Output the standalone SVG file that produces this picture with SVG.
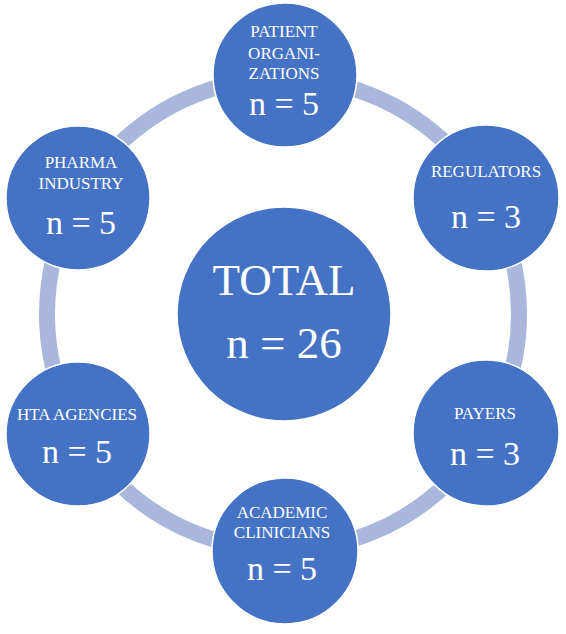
<svg xmlns="http://www.w3.org/2000/svg" width="566" height="634" viewBox="0 0 566 634">
<style>
.node{fill:#4472C4;stroke:#FFFFFF;stroke-width:1.5}
.lbl{font-family:"Liberation Serif","Times New Roman",serif;fill:#FFFFFF;text-anchor:middle;font-size:17px}
.num{font-family:"Liberation Serif","Times New Roman",serif;fill:#FFFFFF;text-anchor:middle;font-size:34px}
.big{font-family:"Liberation Serif","Times New Roman",serif;fill:#FFFFFF;text-anchor:middle;font-size:45px}
</style>
<rect width="566" height="634" fill="#FFFFFF"/>
<g id="connectors">
<circle cx="283" cy="314" r="236" fill="none" stroke="#AAB7DC" stroke-width="16"/>
</g>
<g id="total">
<circle class="node" cx="284" cy="314" r="107"/>
<text class="big" x="284" y="295">TOTAL</text>
<text class="big" x="284" y="358">n = 26</text>
</g>
<g id="patient">
<circle class="node" cx="285" cy="75" r="72"/>
<text class="lbl" x="284" y="37">PATIENT</text>
<text class="lbl" x="284" y="59">ORGANI-</text>
<text class="lbl" x="284" y="79">ZATIONS</text>
<text class="num" x="284" y="115">n = 5</text>
</g>
<g id="regulators">
<circle class="node" cx="486" cy="198" r="73"/>
<text class="lbl" x="486" y="177">REGULATORS</text>
<text class="num" x="486" y="228">n = 3</text>
</g>
<g id="payers">
<circle class="node" cx="486" cy="433" r="73"/>
<text class="lbl" x="485" y="419">PAYERS</text>
<text class="num" x="485" y="465">n = 3</text>
</g>
<g id="academic">
<circle class="node" cx="285" cy="551" r="73"/>
<text class="lbl" x="282" y="518">ACADEMIC</text>
<text class="lbl" x="282" y="538">CLINICIANS</text>
<text class="num" x="282" y="580">n = 5</text>
</g>
<g id="hta">
<circle class="node" cx="78" cy="434" r="72"/>
<text class="lbl" x="77" y="420">HTA AGENCIES</text>
<text class="num" x="77" y="463">n = 5</text>
</g>
<g id="pharma">
<circle class="node" cx="78" cy="198" r="72"/>
<text class="lbl" x="81" y="168">PHARMA</text>
<text class="lbl" x="81" y="189">INDUSTRY</text>
<text class="num" x="81" y="234">n = 5</text>
</g>
</svg>
